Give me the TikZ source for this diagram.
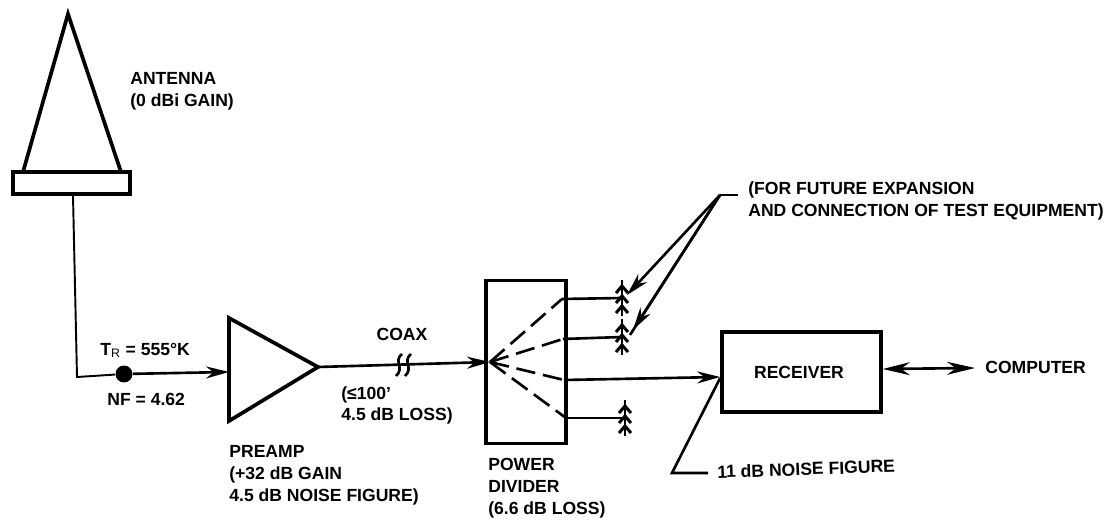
\documentclass[tikz,border=0pt]{standalone}
\usepackage{fontspec}
\setmainfont{Liberation Sans}
\usepackage{tikz}
\usetikzlibrary{arrows.meta,positioning,calc}

\tikzset{
    pics/jack/.style={code={
        \draw[line width=1.7pt] (0,-18) -- (0,18);
        \foreach \dy in {-10,0,10}{
            \draw[line width=1.7pt] (-6,\dy+5) -- (0,\dy-2) -- (6,\dy+5);
        }
    }}
}

\begin{document}
\begin{tikzpicture}[
    x=0.02cm, y=-0.02cm,
    block/.style={draw, line width=2.1pt, inner sep=0pt},
    tag/.style={font=\fontsize{10}{12.4}\selectfont\bfseries, align=left, inner sep=0pt},
    wire/.style={line width=1.5pt},
    arrow/.style={-{Stealth[length=4.6mm,width=2.4mm]}, line width=1.5pt},
    both/.style={{Stealth[length=5.4mm,width=2.6mm]}-{Stealth[length=5.6mm,width=2.6mm]}, line width=1.5pt},
    fan/.style={line width=1.5pt, dash pattern=on 11pt off 4.5pt}
]
\useasboundingbox (0,0) rectangle (1107,520);

% antenna
\node[block, minimum width=2.34cm, minimum height=0.44cm] (feed) at (71.5,183) {};
\coordinate (tip) at (68,14);
\coordinate (baseL) at (23,172);
\coordinate (baseR) at (121,172);
\draw[block] (baseL) -- (tip) -- (baseR);
\node[tag, anchor=north west] (antlabel) at (130,72) {ANTENNA\\(0 dBi GAIN)};

% preamp
\coordinate (pretop) at (229,318);
\coordinate (prebot) at (229,421);
\coordinate (preout) at (318,367);
\coordinate (prein) at (229,372);
\draw[block] (pretop) -- (preout) -- (prebot) -- cycle;
\node[tag, anchor=north west] (prelabel) at (229,445) {PREAMP\\(+32 dB GAIN\\4.5 dB NOISE FIGURE)};

% divider and receiver
\node[block, minimum width=1.6cm, minimum height=3.26cm] (divider) at (526,362) {};
\node[block, minimum width=3.18cm, minimum height=1.6cm] (receiver) at (801.5,372) {};
\node[tag] (reclabel) at (799,372) {RECEIVER};
\node[tag, anchor=north west] (divlabel) at (488,458) {POWER\\DIVIDER\\(6.6 dB LOSS)};

% feed line
\coordinate (corner) at (77,377);
\node[circle, fill, inner sep=0pt, minimum size=0.34cm] (dot) at (124,374) {};
\draw[line width=1.1pt] (feed.south -| 73,0) -- (corner) -- (dot);
\draw[arrow] (dot) -- (prein);
\node[tag, anchor=south west] (trlabel) at (100,358) {T$_{\mathrm{R}}$ = 555°K};
\node[tag, anchor=west] (nflabel) at (107,399) {NF = 4.62};

% coax
\coordinate (fanc) at (490,362);
\draw[arrow] (preout) -- (fanc);
\foreach \bx in {399,408}{
    \draw[wire] (\bx+3,354) .. controls (\bx-6,361) and (\bx+6,368) .. (\bx-3,376);
}
\node[tag, anchor=south] (coaxlabel) at (402,341) {COAX};
\node[tag, anchor=north west] (coaxnote) at (341,386) {(≤100'\\4.5 dB LOSS)};

% fan-out
\coordinate (portA) at (562,299);
\coordinate (portB) at (563,339);
\coordinate (portC) at (564,380);
\coordinate (portD) at (566,418);
\foreach \p in {portA,portB,portC,portD}{
    \draw[fan] (fanc) -- (\p);
}
\coordinate (jackA) at (622,298);
\coordinate (jackB) at (622,337);
\coordinate (jackD) at (625,418);
\draw[wire] (portA) -- (jackA) pic {jack};
\draw[wire] (portB) -- (jackB) pic {jack};
\draw[wire] (portD) -- (jackD) pic {jack};
\draw[arrow] (portC) -- (receiver.west |- 0,377);

% note on spare ports
\coordinate (lead) at (720,195);
\coordinate (leadend) at (738,195);
\node[tag, anchor=west] (futurelabel) at (748,201) {(FOR FUTURE EXPANSION\\AND CONNECTION OF TEST EQUIPMENT)};
\draw[wire] (leadend) -- (lead);
\draw[arrow] (lead) -- (627,295);
\draw[wire] (lead) -- (630,335);
\draw[arrow] (lead) -- (633,330);

% receiver notes
\coordinate (nfend) at (672,473);
\node[tag, anchor=west, rotate=2] (rxnf) at (717,472) {11 dB NOISE FIGURE};
\draw[wire] (receiver.west |- 0,378) -- (nfend) -- (708,473);
\node[tag, anchor=west] (complabel) at (985,367) {COMPUTER};
\draw[both] (receiver.east |- 0,369) -- (975,368);
\end{tikzpicture}
\end{document}
